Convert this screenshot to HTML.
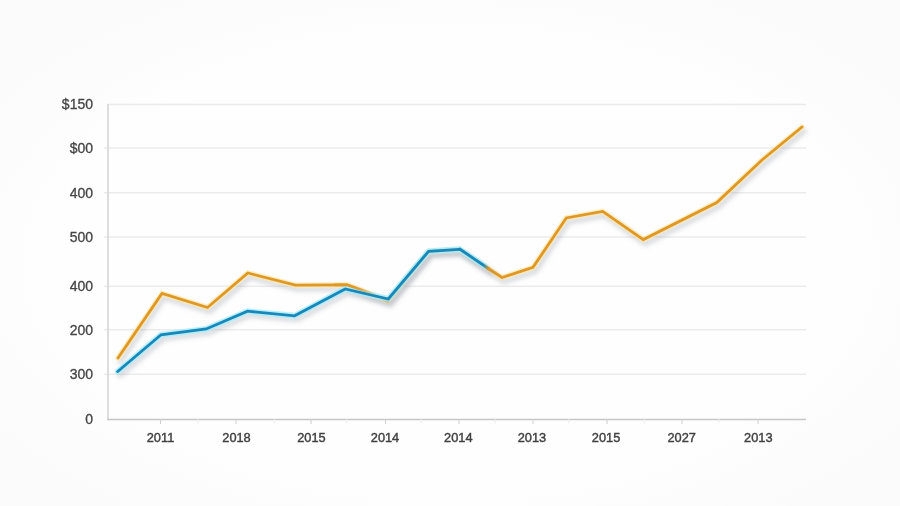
<!DOCTYPE html>
<html>
<head>
<meta charset="utf-8">
<style>
html,body{margin:0;padding:0;background:#fdfdfd;}
body{width:900px;height:506px;overflow:hidden;position:relative;}
svg{position:absolute;left:0;top:0;display:block;filter:blur(0.35px);}
.yl{font-family:"Liberation Sans",sans-serif;font-size:14px;fill:#454545;stroke:#454545;stroke-width:0.3px;text-anchor:end;}
.xl{font-family:"Liberation Sans",sans-serif;font-size:12.8px;fill:#404040;stroke:#404040;stroke-width:0.4px;text-anchor:middle;}
</style>
</head>
<body>
<svg width="900" height="506" viewBox="0 0 900 506">
  <defs>
    <filter id="sh" x="-10%" y="-20%" width="120%" height="160%">
      <feMorphology in="SourceAlpha" operator="dilate" radius="0.5" result="d"/>
      <feGaussianBlur in="d" stdDeviation="2"/>
      <feOffset dx="1.5" dy="4" result="b"/>
      <feFlood flood-color="#8a8f9a" flood-opacity="0.3"/>
      <feComposite in2="b" operator="in"/>
    </filter>
    <linearGradient id="bo" gradientUnits="userSpaceOnUse" x1="459.7" y1="249" x2="489" y2="269">
      <stop offset="0.8" stop-color="#1887b9"/>
      <stop offset="1" stop-color="#df9826"/>
    </linearGradient>
    <linearGradient id="of" gradientUnits="userSpaceOnUse" x1="345" y1="0" x2="376" y2="0">
      <stop offset="0.2" stop-color="#df9826"/>
      <stop offset="1" stop-color="#df9826" stop-opacity="0"/>
    </linearGradient>
  </defs>
  <radialGradient id="bg" cx="50%" cy="52%" r="62%">
    <stop offset="0" stop-color="#fefefe"/>
    <stop offset="0.7" stop-color="#fefefe"/>
    <stop offset="1" stop-color="#fbfbfb"/>
  </radialGradient>
  <rect x="0" y="0" width="900" height="506" fill="url(#bg)"/>
  <!-- gridlines -->
  <g stroke="#ebebeb" stroke-width="1.5" fill="none">
    <line x1="107" y1="104.5" x2="806" y2="104.5"/>
    <line x1="104" y1="148" x2="806" y2="148"/>
    <line x1="104" y1="192.8" x2="806" y2="192.8"/>
    <line x1="104" y1="237.1" x2="806" y2="237.1"/>
    <line x1="104" y1="286.3" x2="343" y2="286.3"/><line x1="404" y1="286.3" x2="806" y2="286.3"/>
    <line x1="104" y1="329.8" x2="806" y2="329.8"/>
    <line x1="104" y1="374.2" x2="806" y2="374.2"/>
  </g>
  <!-- y axis -->
  <line x1="108" y1="104" x2="108" y2="420" stroke="#d8d8d8" stroke-width="1.7"/>
  <!-- x axis -->
  <line x1="107" y1="419.4" x2="806" y2="419.4" stroke="#c6c6c6" stroke-width="1.5"/>
  <g stroke="#cfcfcf" stroke-width="1">
    <line x1="160.5" y1="419" x2="160.5" y2="424"/>
    <line x1="236" y1="419" x2="236" y2="424"/>
    <line x1="311" y1="419" x2="311" y2="424"/>
    <line x1="385.5" y1="419" x2="385.5" y2="424"/>
    <line x1="459" y1="419" x2="459" y2="424"/>
    <line x1="533" y1="419" x2="533" y2="424"/>
    <line x1="607" y1="419" x2="607" y2="424"/>
    <line x1="682" y1="419" x2="682" y2="424"/>
    <line x1="758" y1="419" x2="758" y2="424"/>
  </g>
  <g stroke="#ececec" stroke-width="1">
    <line x1="197.8" y1="419" x2="197.8" y2="423.5"/>
    <line x1="274.4" y1="419" x2="274.4" y2="423.5"/>
    <line x1="346.7" y1="419" x2="346.7" y2="423.5"/>
    <line x1="421.1" y1="419" x2="421.1" y2="423.5"/>
    <line x1="495.1" y1="419" x2="495.1" y2="423.5"/>
    <line x1="568.9" y1="419" x2="568.9" y2="423.5"/>
    <line x1="644.4" y1="419" x2="644.4" y2="423.5"/>
    <line x1="718.9" y1="419" x2="718.9" y2="423.5"/>
  </g>
  <!-- y labels -->
  <text class="yl" x="93" y="109.3">$150</text>
  <text class="yl" x="93" y="153">$00</text>
  <text class="yl" x="93" y="197.6">400</text>
  <text class="yl" x="93" y="242.4">500</text>
  <text class="yl" x="93" y="290.6">400</text>
  <text class="yl" x="93" y="334.8">200</text>
  <text class="yl" x="93" y="379">300</text>
  <text class="yl" x="93" y="424.2">0</text>
  <!-- x labels -->
  <text class="xl" x="160.5" y="442">2011</text>
  <text class="xl" x="236.5" y="442">2018</text>
  <text class="xl" x="311.4" y="442">2015</text>
  <text class="xl" x="385" y="442">2014</text>
  <text class="xl" x="458.3" y="442">2014</text>
  <text class="xl" x="531.9" y="442">2013</text>
  <text class="xl" x="606.1" y="442">2015</text>
  <text class="xl" x="681.7" y="442">2027</text>
  <text class="xl" x="758.3" y="442">2013</text>
  <!-- lines -->
  <g fill="none" stroke-linejoin="miter" stroke-linecap="round">
    <polyline filter="url(#sh)" stroke="#f0c870" stroke-width="3" points="118,358 162,293.5 207.5,307.5 247.8,273 295.4,285.2 347,284.8 388,301 428.6,251.3 459.5,249.4 489,269 502,277.5 533,267.4 566.3,217.9 602.7,211.4 643.3,239.6 716.8,202.5 762,160 802,127"/>
    <polyline stroke="#fde7a6" stroke-opacity="0.7" stroke-width="5.5" points="118,358 162,293.5 207.5,307.5 247.8,273 295.4,285.2 347,284.8 388,301 428.6,251.3 459.5,249.4 489,269 502,277.5 533,267.4 566.3,217.9 602.7,211.4 643.3,239.6 716.8,202.5 762,160 802,127"/>
    <polyline stroke="#df9826" stroke-width="2.8" points="118,358 162,293.5 207.5,307.5 247.8,273 295.4,285.2 347,284.8 388,301 428.6,251.3 459.5,249.4 489,269 502,277.5 533,267.4 566.3,217.9 602.7,211.4 643.3,239.6 716.8,202.5 762,160 802,127"/>
  </g>
  <g fill="none" stroke-linejoin="miter" stroke-linecap="round">
    <polyline filter="url(#sh)" stroke="#8bd" stroke-width="3" points="117.7,371.5 161,334.8 206.3,329 247.5,311.2 294.6,315.8 345.2,289 388.3,299 428.6,251.3 459.5,249.4 489,269"/>
    <polyline stroke="#a8ecfa" stroke-opacity="0.8" stroke-width="6" points="117.7,371.5 161,334.8 206.3,329 247.5,311.2 294.6,315.8 345.2,289 388.3,299 428.6,251.3 459.5,249.4 485,266.3"/>
    <polyline stroke="#1887b9" stroke-width="2.8" points="117.7,371.5 161,334.8 206.3,329 247.5,311.2 294.6,315.8 345.2,289 388.3,299 428.6,251.3 459.5,249.4"/>
    <line x1="459.7" y1="249" x2="489" y2="269" stroke="url(#bo)" stroke-width="2.8"/>
    <polyline stroke="url(#of)" stroke-width="2.6" points="335,284.9 347,284.8 376,294.6"/>
  </g>
</svg>
</body>
</html>
